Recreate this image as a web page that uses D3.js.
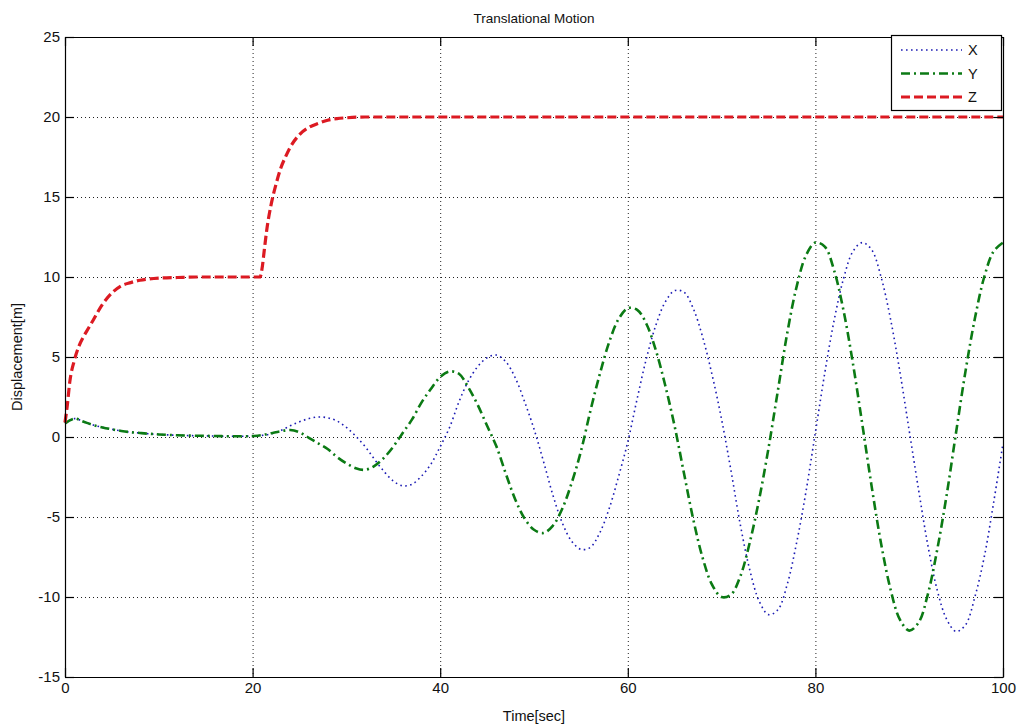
<!DOCTYPE html>
<html>
<head>
<meta charset="utf-8">
<script src="https://cdn.jsdelivr.net/npm/d3@7"></script>
<style>
  html, body { margin: 0; padding: 0; background: #fff; }
  svg { display: block; }
  text { font-family: "Liberation Sans", Arial, sans-serif; fill: #111; }
</style>
</head>
<body>
<svg id="chart" width="1020" height="726"></svg>
<script>
// Sample times (s) for the X and Y traces
const tSec = d3.range(0, 101, 1);

// X displacement (m), one value per second
const xDisp = [
  0.85, 1.15, 0.95, 0.75, 0.6, 0.48, 0.38, 0.3, 0.25, 0.2,
  0.16, 0.13, 0.11, 0.09, 0.08, 0.07, 0.06, 0.05, 0.05, 0.05,
  0.06, 0.1, 0.2, 0.4, 0.7, 0.95, 1.15, 1.25, 1.2, 1.0,
  0.6, 0.05, -0.6, -1.4, -2.15, -2.75, -3.05, -2.95, -2.45, -1.7,
  -0.6, 0.6, 2.2, 3.5, 4.4, 4.95, 5.12, 4.7, 3.7, 2.2,
  0.5, -1.5, -3.6, -5.35, -6.5, -7.02, -6.9, -6.0, -4.5, -2.5,
  -0.3, 2.4, 4.95, 7.0, 8.45, 9.15, 9.05, 8.0, 6.2, 3.85,
  1.1, -2.1, -5.5, -8.3, -10.25, -11.1, -10.8, -9.2, -6.6, -3.4,
  0.3, 4.0, 7.3, 9.9, 11.6, 12.15, 11.7, 10.0, 7.4, 4.1,
  0.4, -3.3, -6.8, -9.6, -11.4, -12.15, -11.75, -10.0, -7.5, -4.1,
  -0.4
];

// Y displacement (m), one value per second
const yDisp = [
  0.85, 1.15, 0.95, 0.75, 0.6, 0.48, 0.38, 0.3, 0.25, 0.2,
  0.16, 0.13, 0.11, 0.09, 0.08, 0.07, 0.06, 0.05, 0.05, 0.05,
  0.06, 0.12, 0.24, 0.36, 0.44, 0.3, -0.05, -0.4, -0.75, -1.25,
  -1.65, -1.95, -2.05, -1.8, -1.3, -0.6, 0.25, 1.1, 2.15, 3.0,
  3.75, 4.1, 3.95, 3.1, 2.0, 0.7, -0.6, -2.3, -3.9, -5.1,
  -5.8, -6.0, -5.55, -4.5, -2.9, -0.9, 1.6, 3.9, 5.9, 7.35,
  8.05, 7.95, 7.05, 5.4, 3.2, 0.65, -2.3, -5.2, -7.6, -9.25,
  -10.0, -9.85, -8.7, -6.6, -3.9, -0.7, 2.9, 6.5, 9.4, 11.35,
  12.15, 11.9, 10.4, 7.9, 4.6, 0.8, -3.1, -6.65, -9.5, -11.4,
  -12.1, -11.6, -9.8, -7.0, -3.6, 0.3, 4.1, 7.4, 10.0, 11.6,
  12.15
];

// Z (altitude) trace: sample times (s) and displacement (m)
const zTime = [0, 0.25, 0.5, 1, 1.5, 2, 2.5, 3, 4, 5, 6, 7, 8, 9, 10, 12, 14, 17,
  20.8, 21, 21.25, 21.5, 22, 22.5, 23, 23.5, 24, 25, 26, 27, 28, 29, 30, 32, 35, 50, 100];
const zDisp = [0.9, 2.0, 3.4, 4.8, 5.7, 6.3, 6.8, 7.3, 8.3, 9.0, 9.45, 9.65, 9.8, 9.88, 9.93, 9.97, 10, 10,
  10, 10.5, 11.7, 12.9, 14.6, 15.8, 16.8, 17.5, 18.1, 18.9, 19.35, 19.6, 19.8, 19.9, 19.95, 20, 20, 20, 20];

// Axis ticks and labels
const xTicks = [0, 20, 40, 60, 80, 100];
const yTicks = [-15, -10, -5, 0, 5, 10, 15, 20, 25];
const seriesNames = ["X", "Y", "Z"];
const titleText = "Translational Motion";
const xLabel = "Time[sec]";
const yLabel = "Displacement[m]";

const svg = d3.select("#chart");
const pLeft = 65, pRight = 1003, pTop = 37, pBottom = 677;

const x = d3.scaleLinear().domain([0, 100]).range([pLeft, pRight]);
const y = d3.scaleLinear().domain([-15, 25]).range([pBottom, pTop]);

// dotted grid
const grid = svg.append("g");
grid.selectAll("line.gx").data(xTicks.slice(1, -1)).join("line")
  .attr("x1", d => x(d) + 0.5).attr("x2", d => x(d) + 0.5)
  .attr("y1", pTop).attr("y2", pBottom)
  .attr("stroke", "#222").attr("stroke-width", 1).attr("stroke-dasharray", "1,3");
grid.selectAll("line.gy").data(yTicks.slice(1, -1)).join("line")
  .attr("y1", d => y(d) + 0.5).attr("y2", d => y(d) + 0.5)
  .attr("x1", pLeft).attr("x2", pRight)
  .attr("stroke", "#222").attr("stroke-width", 1).attr("stroke-dasharray", "1,3");

// series styles
const styles = {
  X: { color: "#1c1cb4", width: 1.6, dash: "1.6,3.4" },
  Y: { color: "#0b7a14", width: 2.6, dash: "9,4,2,4" },
  Z: { color: "#dc1a22", width: 3.2, dash: "9,4" }
};

const plot = svg.append("g");
const lineCR = d3.line().x(d => x(d[0])).y(d => y(d[1])).curve(d3.curveCatmullRom.alpha(0.5));
const lineMono = d3.line().x(d => x(d[0])).y(d => y(d[1])).curve(d3.curveMonotoneX);

plot.append("path")
  .attr("d", lineCR(tSec.map((t, i) => [t, xDisp[i]])))
  .attr("fill", "none").attr("stroke", styles.X.color)
  .attr("stroke-width", styles.X.width).attr("stroke-dasharray", styles.X.dash);
plot.append("path")
  .attr("d", lineCR(tSec.map((t, i) => [t, yDisp[i]])))
  .attr("fill", "none").attr("stroke", styles.Y.color)
  .attr("stroke-width", styles.Y.width).attr("stroke-dasharray", styles.Y.dash);
plot.append("path")
  .attr("d", lineMono(zTime.map((t, i) => [t, zDisp[i]])))
  .attr("fill", "none").attr("stroke", styles.Z.color)
  .attr("stroke-width", styles.Z.width).attr("stroke-dasharray", styles.Z.dash);

// axes (ticks inward, box on all sides)
const tickLen = 9;
const plain = d => String(d);
const xAxisB = d3.axisBottom(x).tickValues(xTicks).tickSizeInner(-tickLen).tickSizeOuter(0).tickPadding(5).tickFormat(plain);
const xAxisT = d3.axisTop(x).tickValues(xTicks).tickSizeInner(-tickLen).tickSizeOuter(0).tickFormat("");
const yAxisL = d3.axisLeft(y).tickValues(yTicks).tickSizeInner(-tickLen).tickSizeOuter(0).tickPadding(5).tickFormat(plain);
const yAxisR = d3.axisRight(y).tickValues(yTicks).tickSizeInner(-tickLen).tickSizeOuter(0).tickFormat("");

function styleAxis(g) {
  g.select(".domain").attr("stroke", "#000").attr("stroke-width", 1.2);
  g.selectAll(".tick line").attr("stroke", "#000").attr("stroke-width", 1.2);
  g.selectAll(".tick text").attr("font-size", 15).attr("fill", "#111")
    .attr("font-family", "'Liberation Sans', Arial, sans-serif");
}
svg.append("g").attr("transform", `translate(0,${pBottom})`).call(xAxisB).call(styleAxis);
svg.append("g").attr("transform", `translate(0,${pTop})`).call(xAxisT).call(styleAxis);
svg.append("g").attr("transform", `translate(${pLeft},0)`).call(yAxisL).call(styleAxis);
svg.append("g").attr("transform", `translate(${pRight},0)`).call(yAxisR).call(styleAxis);

// titles
svg.append("text").attr("x", (pLeft + pRight) / 2).attr("y", 23)
  .attr("text-anchor", "middle").attr("font-size", 13.5).text(titleText);
svg.append("text").attr("x", (pLeft + pRight) / 2).attr("y", 721)
  .attr("text-anchor", "middle").attr("font-size", 14.5).text(xLabel);
svg.append("text").attr("transform", `translate(22,${(pTop + pBottom) / 2}) rotate(-90)`)
  .attr("text-anchor", "middle").attr("font-size", 14.5).text(yLabel);

// legend
const legend = svg.append("g");
legend.append("rect").attr("x", 891.5).attr("y", 35.5).attr("width", 110).attr("height", 75)
  .attr("fill", "#fff").attr("stroke", "#000").attr("stroke-width", 1.2);
const legY = d3.scalePoint().domain(seriesNames).range([50, 97]);
seriesNames.forEach(name => {
  const s = styles[name];
  legend.append("line")
    .attr("x1", 901).attr("x2", 962).attr("y1", legY(name)).attr("y2", legY(name))
    .attr("stroke", s.color).attr("stroke-width", s.width).attr("stroke-dasharray", s.dash);
  legend.append("text").attr("x", 968).attr("y", legY(name) + 5)
    .attr("font-size", 14.5).text(name);
});
</script>
</body>
</html>
